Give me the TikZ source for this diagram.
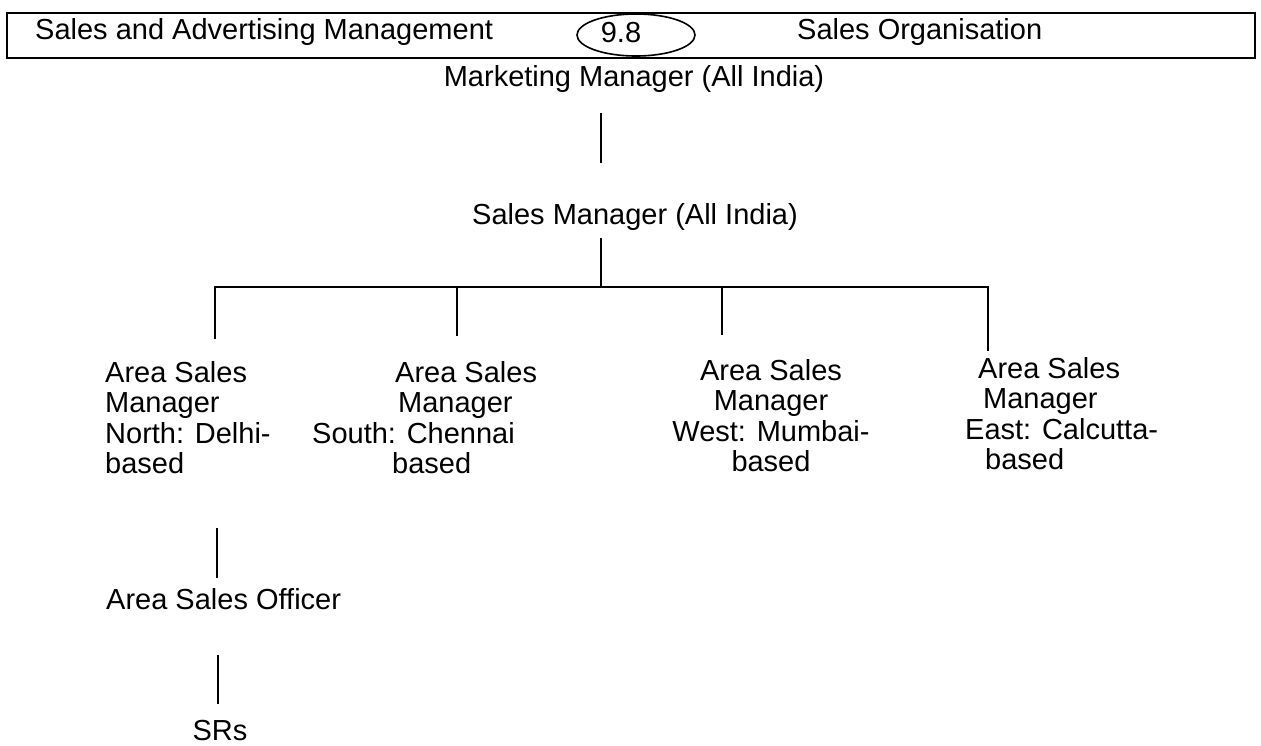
\documentclass[tikz,border=0pt]{standalone}
\usepackage{fontspec}
\setmainfont{Liberation Sans}
\usetikzlibrary{shapes.geometric}
\begin{document}
\begin{tikzpicture}[x=1pt,y=-1pt,
  every node/.style={font=\fontsize{29}{30.5}\selectfont, inner sep=0pt},
  link/.style={line width=1.4pt},
  frame/.style={line width=2pt},
  numoval/.style={draw, ellipse, line width=1.6pt, minimum width=118pt, minimum height=42pt}]
\useasboundingbox (0,0) rectangle (1261,745);
% header
\draw[frame] (7,13) rectangle (1255,58);
\node[anchor=west] (t1) at (35,32) {Sales and Advertising Management};
\node[numoval] (num) at (636,35) {};
\node (numt) at (621,33) {9.8};
\node[anchor=west] (t2) at (797,32) {Sales Organisation};
% hierarchy
\node (mm) at (634,79) {Marketing Manager (All India)};
\node (sm) at (635,217) {Sales Manager (All India)};
\node[anchor=north west, align=left] (north) at (105,361) {Area Sales\\Manager\\North: Delhi-\\based};
\node[anchor=north west, align=left] (south) at (312,361) {\hspace*{83pt}Area Sales\\\hspace*{86pt}Manager\\South: Chennai\\\hspace*{80pt}based};
\node[anchor=north, align=center] (west) at (771,359) {Area Sales\\Manager\\West: Mumbai-\\based};
\node[anchor=north west, align=left] (east) at (965,357) {\hspace*{13pt}Area Sales\\\hspace*{18pt}Manager\\East: Calcutta-\\\hspace*{20pt}based};
\node[anchor=west] (aso) at (106,599) {Area Sales Officer};
\node (srs) at (220,731) {SRs};
% connector end points
\coordinate (c1) at (601,113);
\coordinate (c2) at (601,163);
\coordinate (c3) at (601,238);
\coordinate (trunk) at (601,287);
\coordinate (bN) at (215,287);
\coordinate (bS) at (457,287);
\coordinate (bW) at (722,287);
\coordinate (bE) at (988,287);
\coordinate (eN) at (215,339);
\coordinate (eS) at (457,336);
\coordinate (eW) at (722,335);
\coordinate (eE) at (988,351);
\coordinate (c5) at (217,528);
\coordinate (c6) at (217,578);
\coordinate (c7) at (218,655);
\coordinate (c8) at (218,704);
% connectors
\draw[link] (c1) -- (c2);
\draw[link] (c3) -- (trunk);
\draw[link] (eN) -- (bN) -- (bE) -- (eE);
\draw[link] (bS) -- (eS);
\draw[link] (bW) -- (eW);
\draw[link] (c5) -- (c6);
\draw[link] (c7) -- (c8);
\end{tikzpicture}
\end{document}
